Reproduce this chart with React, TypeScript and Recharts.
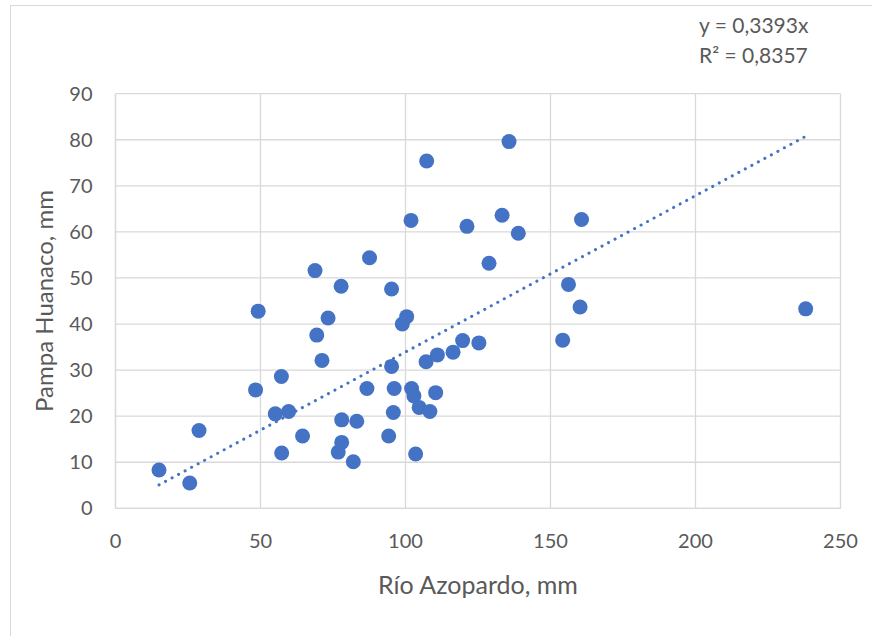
import { CartesianGrid, Label, ReferenceLine, Scatter, ScatterChart, XAxis, YAxis } from "recharts";

// Río Azopardo (x) vs Pampa Huanaco (y), mm
const rioAzopardo = [
  15.0, 25.6, 28.8, 48.3, 49.2, 55.1, 57.2, 57.3, 59.7, 64.5,
  68.8, 69.4, 71.2, 73.3, 76.8, 77.8, 78.0, 78.0, 82.0, 83.2,
  86.7, 87.6, 94.2, 95.2, 95.2, 95.8, 96.1, 98.9, 100.4, 101.9,
  102.1, 102.9, 103.5, 104.7, 107.1, 107.3, 108.4, 110.4, 111.0, 116.4,
  119.7, 121.2, 125.3, 128.8, 133.3, 135.7, 138.9, 154.2, 156.2, 160.2,
  160.7, 238.0,
];
const pampaHuanaco = [
  8.3, 5.5, 16.9, 25.7, 42.8, 20.5, 28.6, 12.0, 21.0, 15.7,
  51.6, 37.6, 32.1, 41.3, 12.2, 48.2, 19.2, 14.3, 10.1, 18.9,
  26.0, 54.4, 15.7, 47.6, 30.8, 20.8, 26.0, 40.0, 41.6, 62.5,
  26.0, 24.4, 11.8, 21.9, 31.8, 75.4, 21.0, 25.1, 33.3, 33.9,
  36.4, 61.2, 35.9, 53.2, 63.6, 79.6, 59.7, 36.5, 48.6, 43.7,
  62.7, 43.3,
];
const xTicks = [0, 50, 100, 150, 200, 250];
const yTicks = [0, 10, 20, 30, 40, 50, 60, 70, 80, 90];

// linear trendline through origin, as printed on the chart
const slope = 0.3393;
const rSquared = 0.8357;

const points = rioAzopardo.map((x, i) => ({ x, y: pampaHuanaco[i] }));
const xMin = Math.min(...rioAzopardo);
const xMax = Math.max(...rioAzopardo);

const BLUE = "#4472C4";
const GRID = "#D9D9D9";
const TEXT = "#595959";
const FONT = "Lato, 'Open Sans', sans-serif";

const fmt = (v: number) => v.toFixed(4).replace(".", ",");

function YTitle(props: any) {
  const vb = props.viewBox ?? { y: 94, height: 414 };
  const cx = 53;
  const cy = vb.y + vb.height / 2;
  return (
    <text
      x={cx}
      y={cy}
      transform={`rotate(-90, ${cx}, ${cy})`}
      textAnchor="middle"
      fill={TEXT}
      fontSize={24}
      fontFamily={FONT}
    >
      Pampa Huanaco, mm
    </text>
  );
}

const Dot = (props: any) => <circle cx={props.cx} cy={props.cy} r={7.5} fill={BLUE} />;

export default function App() {
  return (
    <div
      style={{
        position: "absolute",
        left: 0,
        top: 0,
        width: 872,
        height: 636,
        overflow: "hidden",
        background: "#fff",
        fontFamily: FONT,
      }}
    >
      <div
        style={{
          position: "absolute",
          left: 10,
          top: 5,
          width: 900,
          height: 700,
          border: `1px solid ${GRID}`,
        }}
      />
      <div style={{ position: "absolute", left: 0, top: 0 }}>
        <ScatterChart
          width={872}
          height={636}
          margin={{ top: 93.7, right: 31.5, bottom: 37.7, left: 0 }}
        >
          <CartesianGrid stroke={GRID} strokeWidth={1.3} />
          <XAxis
            type="number"
            dataKey="x"
            domain={[0, 250]}
            ticks={xTicks}
            height={90}
            axisLine={{ stroke: GRID, strokeWidth: 1.3 }}
            tickLine={false}
            tickSize={0}
            tickMargin={25}
            tick={{ fill: TEXT, fontSize: 20, fontFamily: FONT }}
          >
            <Label
              value="Río Azopardo, mm"
              position="insideBottom"
              offset={4}
              fill={TEXT}
              fontSize={25}
              fontFamily={FONT}
            />
          </XAxis>
          <YAxis
            type="number"
            dataKey="y"
            domain={[0, 90]}
            ticks={yTicks}
            width={115.5}
            axisLine={{ stroke: GRID, strokeWidth: 1.3 }}
            tickLine={false}
            tickSize={0}
            tickMargin={23}
            tick={{ fill: TEXT, fontSize: 20, fontFamily: FONT }}
          >
            <Label content={YTitle} />
          </YAxis>
          <Scatter data={points} fill={BLUE} shape={Dot} isAnimationActive={false} />
          <ReferenceLine
            segment={[
              { x: xMin, y: slope * xMin },
              { x: xMax, y: slope * xMax },
            ]}
            stroke={BLUE}
            strokeWidth={3}
            strokeDasharray="0.1 7.3"
            strokeLinecap="round"
            ifOverflow="extendDomain"
          />
        </ScatterChart>
      </div>
      <div
        style={{
          position: "absolute",
          left: 699,
          top: 10,
          fontSize: 21,
          lineHeight: "30px",
          color: TEXT,
          whiteSpace: "nowrap",
        }}
      >
        <div>y = {fmt(slope)}x</div>
        <div>R² = {fmt(rSquared)}</div>
      </div>
    </div>
  );
}
